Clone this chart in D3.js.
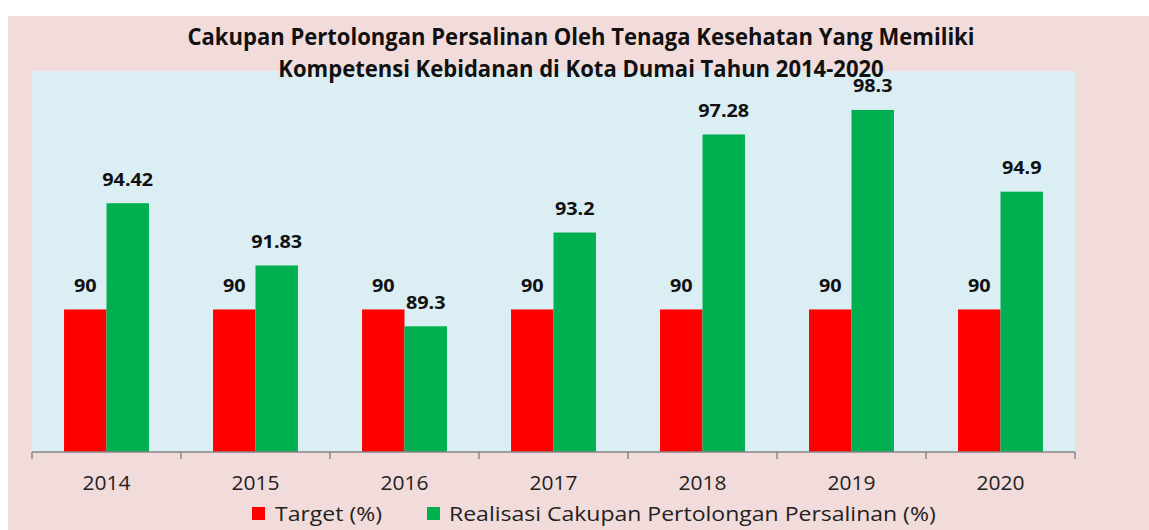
<!DOCTYPE html>
<html><head><meta charset="utf-8">
<script src="https://cdn.jsdelivr.net/npm/d3@7"></script>
<style>html,body{margin:0;padding:0;background:#fff;}svg{display:block;}</style>
</head><body>
<script>
const years = ["2014","2015","2016","2017","2018","2019","2020"];
const target = [90,90,90,90,90,90,90];
const realisasi = [94.42,91.83,89.3,93.2,97.28,98.3,94.9];
const seriesNames = ["Target (%)","Realisasi Cakupan Pertolongan Persalinan (%)"];
const seriesColors = ["#ff0000","#00b050"];
const titleLines = ["Cakupan Pertolongan Persalinan Oleh Tenaga Kesehatan Yang Memiliki","Kompetensi Kebidanan di Kota Dumai Tahun 2014-2020"];

const W=1149,H=530;
const font="'Open Sans', Lato, sans-serif";
const svg=d3.select("body").append("svg").attr("width",W).attr("height",H);

function measure(str,size,weight){
  const t=svg.append("text").attr("font-family",font).attr("font-weight",weight).attr("font-size",size).text(str);
  const w=t.node().getComputedTextLength(); t.remove(); return w;
}
// style: font size (from cap height) + horizontal squeeze (from a sample width)
function style(sample,width,size,weight){
  return {size,weight,k:width/measure(sample,size,weight)};
}
function addText(parent,str,st,x,y,anchor){
  const t=parent.append("text").attr("x",x).attr("y",y).attr("text-anchor",anchor||"start")
    .attr("font-family",font).attr("font-weight",st.weight).attr("font-size",st.size).text(str);
  const w=t.node().getComputedTextLength();
  t.attr("textLength",w*st.k).attr("lengthAdjust","spacingAndGlyphs");
  return t;
}
const titleSt=style(titleLines[0],787,23.5,"bold");
const valSt=style("94.42",51,17.8,"bold");
const tickSt=style("2014",48,20.5,"normal");
const legSt=style(seriesNames[0],107,20.5,"normal");

svg.append("rect").attr("x",8).attr("y",16).attr("width",W-8).attr("height",H-16).attr("fill","#f2dcdb");
const plot={l:32,r:1075,t:71,b:452};
svg.append("rect").attr("x",plot.l).attr("y",plot.t).attr("width",plot.r-plot.l).attr("height",plot.b-plot.t).attr("fill","#dbeef4");

const x=d3.scaleBand().domain(years).range([plot.l,plot.r]).paddingInner(0.43).paddingOuter(0.215);
const xs=d3.scaleBand().domain([0,1]).range([0,x.bandwidth()]);
const y=d3.scaleLinear().domain([84.07,99.92]).range([plot.b,plot.t]);

const data=years.map((yr,i)=>({yr,vals:[target[i],realisasi[i]]}));
const g=svg.append("g");
data.forEach(d=>{
  d.vals.forEach((v,k)=>{
    g.append("rect").attr("x",x(d.yr)+xs(k)).attr("y",y(v)).attr("width",xs.bandwidth()).attr("height",plot.b-y(v)).attr("fill",seriesColors[k]);
    addText(g,String(v),valSt,x(d.yr)+xs(k)+xs.bandwidth()/2,y(v)-17.5,"middle").attr("fill","#111");
  });
});

// axis
const ax=svg.append("g").attr("transform",`translate(0,${plot.b})`);
ax.append("line").attr("x1",plot.l).attr("x2",plot.r).attr("stroke","#868686").attr("stroke-width",1.5);
const bounds=years.map(yr=>x(yr)-x.step()*x.paddingInner()/2).concat([plot.r]);
bounds.forEach(b=>ax.append("line").attr("x1",b).attr("x2",b).attr("y1",0).attr("y2",7).attr("stroke","#868686").attr("stroke-width",1.5));
years.forEach(yr=>addText(ax,yr,tickSt,x(yr)+x.bandwidth()/2,38,"middle").attr("fill","#222"));

// title
titleLines.forEach((t,i)=>addText(svg,t,titleSt,581,45+i*32,"middle").attr("fill","#111"));

// legend
const leg=[{x:252,tx:275},{x:427,tx:449}];
seriesNames.forEach((n,i)=>{
  svg.append("rect").attr("x",leg[i].x).attr("y",507).attr("width",13).attr("height",13).attr("fill",seriesColors[i]);
  addText(svg,n,legSt,leg[i].tx,521).attr("fill","#222");
});
</script>
</body></html>
